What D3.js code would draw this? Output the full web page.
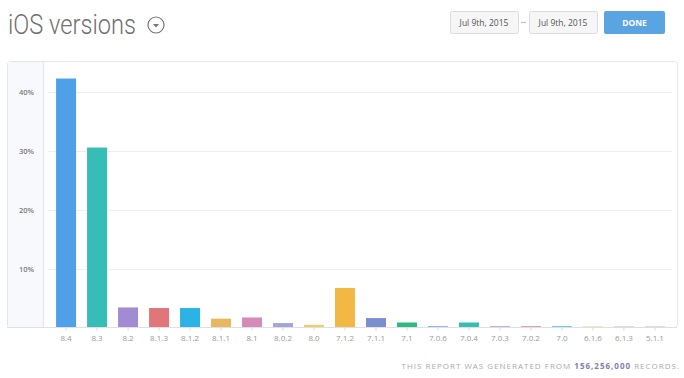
<!DOCTYPE html>
<html>
<head>
<meta charset="utf-8">
<script src="https://cdn.jsdelivr.net/npm/d3@7"></script>
<style>
  body { margin: 0; background: #fff; font-family: "Open Sans", sans-serif; }
</style>
</head>
<body>
<script>
// versions & shares (percent)
let versions = ["8.4", "8.3", "8.2", "8.1.3", "8.1.2", "8.1.1", "8.1", "8.0.2", "8.0", "7.1.2",
                "7.1.1", "7.1", "7.0.6", "7.0.4", "7.0.3", "7.0.2", "7.0", "6.1.6", "6.1.3", "5.1.1"]
let shares = [42.2, 30.5, 3.4, 3.3, 3.3, 1.5, 1.7, 0.75, 0.45, 6.7,
              1.6, 0.85, 0.2, 0.85, 0.2, 0.2, 0.2, 0.15, 0.15, 0.15]
let yTicks = [10, 20, 30, 40]
let palette = ["#4f9fe9", "#36bdb5", "#a28bd1", "#e07679", "#2cb3e6", "#e9b75f",
               "#d68ab7", "#a0a6da", "#f1cc6e", "#f2b843", "#7b8fd0", "#2dbb83"]

let W = 684, H = 378
let svg = d3.select("body").append("svg").attr("width", W).attr("height", H)

// header
svg.append("text").attr("x", 8).attr("y", 34)
    .style("font-family", "Roboto, sans-serif").style("font-weight", 300)
    .style("font-size", "27px").attr("fill", "#707070")
    .attr("textLength", 128).attr("lengthAdjust", "spacingAndGlyphs")
    .text("iOS versions")
let dd = svg.append("g").attr("transform", "translate(156,25)")
dd.append("circle").attr("r", 8).attr("fill", "none").attr("stroke", "#777").attr("stroke-width", 1.2)
dd.append("path").attr("d", "M-3,-1 L3,-1 L0,2.5 Z").attr("fill", "#777")

// date boxes
let boxes = [{x: 450, t: "Jul 9th, 2015"}, {x: 529, t: "Jul 9th, 2015"}]
boxes.forEach(b => {
    svg.append("rect").attr("x", b.x + 0.5).attr("y", 11.5).attr("width", 68).attr("height", 22)
        .attr("rx", 2).attr("fill", "#f6f6f6").attr("stroke", "#dcdcdc")
    svg.append("text").attr("x", b.x + 34).attr("y", 26).attr("text-anchor", "middle")
        .style("font-size", "8.5px").attr("fill", "#555").text(b.t)
})
svg.append("line").attr("x1", 521).attr("x2", 526).attr("y1", 22.5).attr("y2", 22.5).attr("stroke", "#bbb")
svg.append("rect").attr("x", 604).attr("y", 11).attr("width", 61).attr("height", 23).attr("rx", 2)
    .attr("fill", "#5aa5e1")
svg.append("text").attr("x", 634.5).attr("y", 26).attr("text-anchor", "middle")
    .style("font-size", "8.5px").style("font-weight", 700).attr("fill", "#fff").text("DONE")

// chart panel
let panel = {x0: 7, x1: 677, y0: 61, y1: 327}
let axisW = 36
svg.append("rect").attr("x", panel.x0 + 0.5).attr("y", panel.y0 + 0.5)
    .attr("width", panel.x1 - panel.x0).attr("height", panel.y1 - panel.y0)
    .attr("rx", 3).attr("fill", "#fff").attr("stroke", "#e6e6e6")
svg.append("rect").attr("x", panel.x0 + 1).attr("y", panel.y0 + 1)
    .attr("width", axisW - 1).attr("height", panel.y1 - panel.y0 - 1).attr("fill", "#f8f9fc")
svg.append("line").attr("x1", panel.x0 + axisW + 0.5).attr("x2", panel.x0 + axisW + 0.5)
    .attr("y1", panel.y0 + 1).attr("y2", panel.y1).attr("stroke", "#e8e9ee").attr("stroke-width", 1.5)

let y = d3.scaleLinear().domain([0, 40]).range([327.5, 91.5])
let x = d3.scaleBand().domain(versions).range([50.5, 670.5]).paddingInner(0.355).paddingOuter(0.18)

// grid
svg.append("g").selectAll("line").data(yTicks).join("line")
    .attr("x1", 48).attr("x2", 672)
    .attr("y1", d => Math.round(y(d)) + 0.5).attr("y2", d => Math.round(y(d)) + 0.5)
    .attr("stroke", "#eeeeee")
svg.append("g").selectAll("text").data(yTicks).join("text")
    .attr("x", 19).attr("y", d => y(d) + 3)
    .style("font-size", "7.5px").style("font-weight", 600).attr("fill", "#7d7d7d")
    .text(d => d + "%")

// bars
svg.append("g").selectAll("rect").data(versions).join("rect")
    .attr("x", d => x(d)).attr("width", x.bandwidth())
    .attr("y", (d, i) => y(shares[i])).attr("height", (d, i) => y(0) - y(shares[i]))
    .attr("fill", (d, i) => palette[i % palette.length])

// baseline and x axis
svg.append("line").attr("x1", panel.x0).attr("x2", panel.x1)
    .attr("y1", 327.5).attr("y2", 327.5).attr("stroke", "#dfe0e4")
let xAxis = svg.append("g").attr("transform", "translate(0,327.5)")
    .call(d3.axisBottom(x).tickSize(3).tickPadding(5))
xAxis.select(".domain").remove()
xAxis.selectAll("line").attr("stroke", "#d8d8d8")
xAxis.selectAll("text").style("font-size", "8px").style("font-family", "Open Sans, sans-serif").attr("fill", "#999")

// footer
let foot = svg.append("text").attr("x", 680).attr("y", 369).attr("text-anchor", "end")
    .style("font-size", "8px").style("letter-spacing", "1px").attr("fill", "#a9a9b3")
foot.append("tspan").text("THIS REPORT WAS GENERATED FROM ")
foot.append("tspan").style("font-weight", 700).attr("fill", "#857ea8").text("156,256,000")
foot.append("tspan").text(" RECORDS.")
</script>
</body>
</html>
